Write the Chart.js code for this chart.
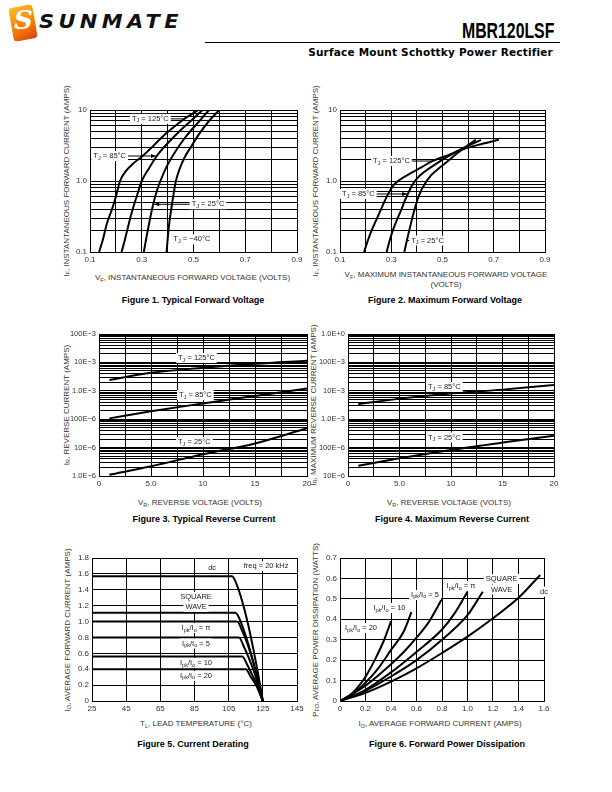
<!DOCTYPE html>
<html><head><meta charset="utf-8">
<script src="https://cdn.jsdelivr.net/npm/chart.js@4.4.0/dist/chart.umd.min.js"></script>
<style>
body{margin:0;width:612px;height:792px;background:#fff;position:relative;overflow:hidden;font-family:"Liberation Sans",Arial,sans-serif;color:#222}
canvas{position:absolute}
.cap{position:absolute;font-weight:bold;font-size:9px;white-space:nowrap;transform:translate(-50%,-50%);color:#000;line-height:11px}
.xt{position:absolute;font-size:8px;white-space:nowrap;transform:translate(-50%,-50%);line-height:10px;text-align:center;color:#333}
.yt{position:absolute;font-size:8px;white-space:nowrap;transform:translate(-50%,-50%) rotate(-90deg);line-height:9px;color:#333}
sub{font-size:5.5px;vertical-align:-1.5px;line-height:0}
</style></head><body>

<div style="position:absolute;left:11px;top:6px;width:24px;height:34px;background:linear-gradient(160deg,#fbc02d,#f57c00 60%,#d84315);border-radius:4px;transform:rotate(-10deg)"></div>
<div style="position:absolute;left:14px;top:5px;font:italic bold 26px 'DejaVu Serif';color:#fff">S</div>
<div style="position:absolute;left:39px;top:10px;font:italic 900 19px 'DejaVu Sans';letter-spacing:4px;color:#111;transform:scaleX(1.1);transform-origin:left center">SUNMATE</div>
<div style="position:absolute;right:58px;top:18px;font:bold 22px 'Liberation Sans';transform:scaleX(0.72);transform-origin:right center;color:#000">MBR120LSF</div>
<div style="position:absolute;left:205px;top:42px;width:355px;height:0;border-top:1.2px solid #000"></div>
<div style="position:absolute;right:59px;top:46px;font:bold 10.5px 'DejaVu Sans';color:#000;letter-spacing:0.2px">Surface Mount Schottky Power Rectifier</div>

<div class="yt" style="left:65.5px;top:181px">I<sub>F</sub>, INSTANTANEOUS FORWARD CURRENT (AMPS)</div>
<div class="yt" style="left:315px;top:181px">I<sub>F</sub>, INSTANTANEOUS FORWARD CURRENT (AMPS)</div>
<div class="yt" style="left:66px;top:405px">I<sub>R</sub>, REVERSE CURRENT (AMPS)</div>
<div class="yt" style="left:313px;top:405px">I<sub>R</sub>, MAXIMUM REVERSE CURRENT (AMPS)</div>
<div class="yt" style="left:67px;top:630px">I<sub>O</sub>, AVERAGE FORWARD CURRENT (AMPS)</div>
<div class="yt" style="left:315px;top:630px">P<sub>FO</sub>, AVERAGE POWER DISSIPATION (WATTS)</div>

<div class="xt" style="left:192.5px;top:277.5px">V<sub>F</sub>, INSTANTANEOUS FORWARD VOLTAGE (VOLTS)</div>
<div class="xt" style="left:446px;top:280px">V<sub>F</sub>, MAXIMUM INSTANTANEOUS FORWARD VOLTAGE<br>(VOLTS)</div>
<div class="xt" style="left:200px;top:502.5px">V<sub>R</sub>, REVERSE VOLTAGE (VOLTS)</div>
<div class="xt" style="left:449px;top:502.5px">V<sub>R</sub>, REVERSE VOLTAGE (VOLTS)</div>
<div class="xt" style="left:196px;top:724px">T<sub>L</sub>, LEAD TEMPERATURE (°C)</div>
<div class="xt" style="left:440px;top:724px">I<sub>O</sub>, AVERAGE FORWARD CURRENT (AMPS)</div>

<div class="cap" style="left:193px;top:299.5px">Figure 1. Typical Forward Voltage</div>
<div class="cap" style="left:445px;top:299.5px">Figure 2. Maximum Forward Voltage</div>
<div class="cap" style="left:204px;top:518.5px">Figure 3. Typical Reverse Current</div>
<div class="cap" style="left:452px;top:518.5px">Figure 4. Maximum Reverse Current</div>
<div class="cap" style="left:193px;top:744px">Figure 5. Current Derating</div>
<div class="cap" style="left:447px;top:744px">Figure 6. Forward Power Dissipation</div>

<script>
const FONT = '"Liberation Sans", Arial, sans-serif';

// ---------- Figure 1: Typical forward voltage ----------
const F1_X_TICKS = [0.1,0.2,0.3,0.4,0.5,0.6,0.7,0.8,0.9];
const F1_X_LABELS = ['0.1','','0.3','','0.5','','0.7','','0.9'];
const F1_Y_TICKS = [0.1,1,10];
const F1_Y_LABELS = ['0.1','1.0','10'];
const F1_V_125 = [0.135,0.15,0.165,0.185,0.20,0.216,0.24,0.27,0.30,0.34,0.38,0.42,0.46,0.49,0.518];
const F1_I_125 = [0.1,0.15,0.25,0.4,0.6,1.0,1.4,1.8,2.2,3.0,4.2,5.6,7.3,8.6,10];
const F1_V_85 = [0.222,0.235,0.25,0.265,0.283,0.30,0.33,0.358,0.40,0.45,0.50,0.535];
const F1_I_85 = [0.1,0.15,0.25,0.4,0.65,1.0,1.55,2.25,3.4,5.2,7.6,10];
const F1_V_25 = [0.308,0.318,0.33,0.343,0.357,0.372,0.40,0.43,0.47,0.52,0.56];
const F1_I_25 = [0.1,0.16,0.27,0.45,0.7,1.0,1.7,2.6,4.2,6.8,10];
const F1_V_M40 = [0.396,0.40,0.406,0.414,0.422,0.432,0.447,0.467,0.49,0.52,0.56,0.60];
const F1_I_M40 = [0.1,0.15,0.25,0.4,0.62,1.0,1.5,2.2,3.0,4.5,7.0,10];

// ---------- Figure 2: Maximum forward voltage ----------
const F2_V_125 = [0.194,0.21,0.228,0.25,0.272,0.292,0.31,0.335,0.37,0.41,0.46,0.52,0.58,0.65,0.72];
const F2_I_125 = [0.1,0.15,0.22,0.33,0.5,0.7,0.88,1.05,1.25,1.5,1.9,2.3,2.8,3.3,3.8];
const F2_V_85 = [0.282,0.295,0.31,0.325,0.34,0.352,0.365,0.38,0.40,0.43,0.47,0.52,0.58,0.65];
const F2_I_85 = [0.1,0.15,0.22,0.3,0.4,0.52,0.66,0.85,1.08,1.35,1.7,2.2,2.9,3.8];
const F2_V_25 = [0.351,0.36,0.37,0.382,0.395,0.41,0.43,0.455,0.485,0.52,0.56,0.60,0.63];
const F2_I_25 = [0.1,0.14,0.2,0.3,0.45,0.65,0.9,1.2,1.5,1.9,2.5,3.2,3.8];

// ---------- Figure 3: Typical reverse current ----------
const F3_X_TICKS = [0,2.5,5,7.5,10,12.5,15,17.5,20];
const F3_X_LABELS = ['0','','5.0','','10','','15','','20'];
const F3_Y_TICKS = [1e-6,1e-5,1e-4,1e-3,1e-2,1e-1];
const F3_Y_LABELS = ['1.0E\u22126','10E\u22126','100E\u22126','1.0E\u22123','10E\u22123','100E\u22123'];
const F3_VR = [1,5,10,15,20];
const F3_IR_125 = [2.4e-3,4.3e-3,6.5e-3,9.0e-3,1.15e-2];
const F3_IR_85 = [1.07e-4,1.9e-4,3.6e-4,6.6e-4,1.2e-3];
const F3_IR_25 = [1.1e-6,2.2e-6,5.8e-6,1.4e-5,4.8e-5];

// ---------- Figure 4: Maximum reverse current ----------
const F4_Y_TICKS = [1e-5,1e-4,1e-3,1e-2,1e-1,1];
const F4_Y_LABELS = ['10E\u22126','100E\u22126','1.0E\u22123','10E\u22123','100E\u22123','1.0E+0'];
const F4_VR = [1,5,10,15,20];
const F4_IR_85 = [3.4e-3,5.3e-3,8.1e-3,1.1e-2,1.6e-2];
const F4_IR_25 = [2.3e-5,4.2e-5,8.3e-5,1.5e-4,2.6e-4];

// ---------- Figure 5: Current derating ----------
const F5_X_TICKS = [25,45,65,85,105,125,145];
const F5_X_LABELS = ['25','45','65','85','105','125','145'];
const F5_Y_TICKS = [0,0.2,0.4,0.6,0.8,1.0,1.2,1.4,1.6,1.8];
const F5_Y_LABELS = ['0','0.2','0.4','0.6','0.8','1.0','1.2','1.4','1.6','1.8'];
const F5_T_DC = [25,107,110,113,116,119,122,125];
const F5_I_DC = [1.57,1.57,1.45,1.25,1.0,0.7,0.37,0];
const F5_T_SQ = [25,109,112,115,118,121,125];
const F5_I_SQ = [1.11,1.11,1.0,0.82,0.6,0.36,0];
const F5_T_PI = [25,110,113,116,119,122,125];
const F5_I_PI = [1.0,1.0,0.88,0.72,0.52,0.28,0];
const F5_T_5 = [25,111,114,117,120,125];
const F5_I_5 = [0.8,0.8,0.68,0.53,0.36,0];
const F5_T_10 = [25,113,116,119,122,125];
const F5_I_10 = [0.56,0.56,0.45,0.32,0.18,0];
const F5_T_20 = [25,115,118,121,125];
const F5_I_20 = [0.4,0.4,0.3,0.2,0];

// ---------- Figure 6: Forward power dissipation ----------
const F6_X_TICKS = [0,0.2,0.4,0.6,0.8,1.0,1.2,1.4,1.6];
const F6_X_LABELS = ['0','0.2','0.4','0.6','0.8','1.0','1.2','1.4','1.6'];
const F6_Y_TICKS = [0,0.1,0.2,0.3,0.4,0.5,0.6,0.7];
const F6_Y_LABELS = ['0','0.1','0.2','0.3','0.4','0.5','0.6','0.7'];
const F6_I_DC = [0,0.2,0.4,0.6,0.8,1.0,1.2,1.4,1.57];
const F6_P_DC = [0,0.04,0.095,0.16,0.235,0.315,0.405,0.505,0.617];
const F6_I_SQ = [0,0.2,0.4,0.6,0.8,1.0,1.12];
const F6_P_SQ = [0,0.05,0.12,0.2,0.3,0.42,0.535];
const F6_I_PI = [0,0.2,0.4,0.6,0.8,0.9,1.0];
const F6_P_PI = [0,0.055,0.14,0.24,0.35,0.43,0.535];
const F6_I_5 = [0,0.2,0.4,0.5,0.6,0.7,0.8];
const F6_P_5 = [0,0.075,0.18,0.24,0.31,0.39,0.5];
const F6_I_10 = [0,0.1,0.2,0.3,0.4,0.5,0.56];
const F6_P_10 = [0,0.035,0.09,0.16,0.25,0.34,0.435];
const F6_I_20 = [0,0.05,0.1,0.15,0.18,0.22,0.28,0.34,0.40];
const F6_P_20 = [0,0.015,0.04,0.075,0.1,0.14,0.21,0.29,0.39];

// ---------- layout ----------
const PAD_L = 50, PAD_T = 10, PAD_R = 14, PAD_B = 18;

function logGrid(min, max){
  const g = [];
  for (let e = Math.round(Math.log10(min)); e < Math.round(Math.log10(max)); e++)
    for (let k = 1; k < 10; k++) g.push(k * Math.pow(10, e));
  g.push(max);
  return g;
}
function axisCfg(type, min, max, gridVals, labVals, labels, isY, fontSize){
  return {
    type, min, max, bounds:'data', position: isY ? 'left' : 'bottom',
    afterBuildTicks(s){ s.ticks = gridVals.map(v => ({value:v})); },
    afterFit(s){ if (isY) s.width = PAD_L; else s.height = PAD_B; },
    ticks:{autoSkip:false, maxRotation:0, minRotation:0, padding:3, color:'#333',
      font:{family:FONT, size:fontSize || 8},
      callback(v){ const i = labVals.findIndex(t => Math.abs(t - v) <= 1e-12 + Math.abs(t) * 1e-6); return i < 0 ? '' : labels[i]; }},
    grid:{color:'#000', lineWidth:1, drawTicks:false},
    border:{color:'#000', width:1}
  };
}
function parts(s){
  const out = []; const re = /_\{([^}]*)\}/g; let last = 0, m;
  while ((m = re.exec(s))) { if (m.index > last) out.push({t:s.slice(last, m.index), sub:false}); out.push({t:m[1], sub:true}); last = re.lastIndex; }
  if (last < s.length) out.push({t:s.slice(last), sub:false});
  return out;
}
function notesPlugin(notes){
  return {id:'notes', afterDatasetsDraw(chart){
    const ctx = chart.ctx, xs = chart.scales.x, ys = chart.scales.y;
    ctx.save();
    ctx.strokeStyle = '#000'; ctx.fillStyle = '#000'; ctx.lineWidth = 1;
    notes.forEach(n => {
      if (!n.to) return;
      const x1 = xs.getPixelForValue(n.x), y1 = ys.getPixelForValue(n.y);
      const x2 = xs.getPixelForValue(n.to[0]), y2 = ys.getPixelForValue(n.to[1]);
      ctx.beginPath(); ctx.moveTo(x1, y1); ctx.lineTo(x2, y2); ctx.stroke();
      if (n.arrow){
        const a = Math.atan2(y2 - y1, x2 - x1), L = 5, W = 2;
        ctx.beginPath();
        ctx.moveTo(x2, y2);
        ctx.lineTo(x2 - L*Math.cos(a) + W*Math.sin(a), y2 - L*Math.sin(a) - W*Math.cos(a));
        ctx.lineTo(x2 - L*Math.cos(a) - W*Math.sin(a), y2 - L*Math.sin(a) + W*Math.cos(a));
        ctx.closePath(); ctx.fill();
      }
    });
    notes.forEach(n => {
      const ps = parts(n.text);
      const fN = '7.5px ' + FONT, fS = '5.5px ' + FONT;
      let w = 0;
      ps.forEach(p => { ctx.font = p.sub ? fS : fN; p.w = ctx.measureText(p.t).width; w += p.w; });
      let x = xs.getPixelForValue(n.x); const y = ys.getPixelForValue(n.y);
      if (n.align === 'center') x -= w / 2;
      if (n.bg !== false){ ctx.fillStyle = '#fff'; ctx.fillRect(x - 2, y - 5, w + 4, 10); }
      ctx.fillStyle = '#222'; ctx.textBaseline = 'middle'; ctx.textAlign = 'left';
      ps.forEach(p => { ctx.font = p.sub ? fS : fN; ctx.fillText(p.t, x, p.sub ? y + 2 : y); x += p.w; });
    });
    ctx.restore();
  }};
}
function series(xArr, yArr){ return xArr.map((x, i) => ({x, y:yArr[i]})); }
function makeChart(plot, xAxis, yAxis, data, notes){
  const c = document.createElement('canvas');
  c.width = plot.w + PAD_L + PAD_R; c.height = plot.h + PAD_T + PAD_B;
  c.style.left = (plot.l - PAD_L) + 'px'; c.style.top = (plot.t - PAD_T) + 'px';
  c.style.width = c.width + 'px'; c.style.height = c.height + 'px';
  document.body.appendChild(c);
  new Chart(c, {
    type:'scatter',
    data:{datasets: data.map(d => ({data:d, showLine:true, borderColor:'#000', borderWidth:2, pointRadius:0, fill:false, cubicInterpolationMode:'monotone'}))},
    options:{responsive:false, animation:false, devicePixelRatio:1,
      layout:{padding:{left:0, top:PAD_T, right:PAD_R, bottom:0}},
      plugins:{legend:{display:false}, tooltip:{enabled:false}},
      scales:{x:xAxis, y:yAxis}},
    plugins:[notesPlugin(notes)]
  });
}

// Figure 1
makeChart({l:90,t:110,w:207,h:142},
  axisCfg('linear',0.1,0.9,F1_X_TICKS,F1_X_TICKS,F1_X_LABELS,false),
  axisCfg('logarithmic',0.1,10,logGrid(0.1,10),F1_Y_TICKS,F1_Y_LABELS,true),
  [series(F1_V_125,F1_I_125),series(F1_V_85,F1_I_85),series(F1_V_25,F1_I_25),series(F1_V_M40,F1_I_M40)],
  [{x:0.262,y:7.5,text:'T_{J} = 125°C',to:[0.462,7.5]},
   {x:0.113,y:2.25,text:'T_{J} = 85°C',to:[0.355,2.25],arrow:true},
   {x:0.493,y:0.47,text:'T_{J} = 25°C',to:[0.348,0.47],arrow:true},
   {x:0.422,y:0.151,text:'T_{J} = \u221240°C'}]);

// Figure 2
makeChart({l:340,t:110,w:205,h:142},
  axisCfg('linear',0.1,0.9,F1_X_TICKS,F1_X_TICKS,F1_X_LABELS,false),
  axisCfg('logarithmic',0.1,10,logGrid(0.1,10),F1_Y_TICKS,F1_Y_LABELS,true),
  [series(F2_V_125,F2_I_125),series(F2_V_85,F2_I_85),series(F2_V_25,F2_I_25)],
  [{x:0.229,y:1.91,text:'T_{J} = 125°C',to:[0.458,1.91]},
   {x:0.108,y:0.656,text:'T_{J} = 85°C',to:[0.362,0.656],arrow:true},
   {x:0.378,y:0.145,text:'T_{J} = 25°C',to:[0.359,0.145]}]);

// Figure 3
makeChart({l:99,t:334,w:208,h:142},
  axisCfg('linear',0,20,F3_X_TICKS,F3_X_TICKS,F3_X_LABELS,false),
  axisCfg('logarithmic',1e-6,1e-1,logGrid(1e-6,1e-1),F3_Y_TICKS,F3_Y_LABELS,true,7.5),
  [series(F3_VR,F3_IR_125),series(F3_VR,F3_IR_85),series(F3_VR,F3_IR_25)],
  [{x:7.6,y:1.43e-2,text:'T_{J} = 125°C'},
   {x:7.7,y:7.1e-4,text:'T_{J} = 85°C'},
   {x:7.6,y:1.57e-5,text:'T_{J} = 25°C'}]);

// Figure 4
makeChart({l:348,t:334,w:206,h:142},
  axisCfg('linear',0,20,F3_X_TICKS,F3_X_TICKS,F3_X_LABELS,false),
  axisCfg('logarithmic',1e-5,1,logGrid(1e-5,1),F4_Y_TICKS,F4_Y_LABELS,true,7.5),
  [series(F4_VR,F4_IR_85),series(F4_VR,F4_IR_25)],
  [{x:7.77,y:1.36e-2,text:'T_{J} = 85°C'},
   {x:7.77,y:2.27e-4,text:'T_{J} = 25°C'}]);

// Figure 5
makeChart({l:92,t:558,w:205,h:143},
  axisCfg('linear',25,145,F5_X_TICKS,F5_X_TICKS,F5_X_LABELS,false),
  axisCfg('linear',0,1.8,F5_Y_TICKS,F5_Y_TICKS,F5_Y_LABELS,true),
  [series(F5_T_DC,F5_I_DC),series(F5_T_SQ,F5_I_SQ),series(F5_T_PI,F5_I_PI),series(F5_T_5,F5_I_5),series(F5_T_10,F5_I_10),series(F5_T_20,F5_I_20)],
  [{x:95.3,y:1.674,text:'dc',align:'center'},
   {x:126.9,y:1.70,text:'freq = 20 kHz',align:'center'},
   {x:85.9,y:1.309,text:'SQUARE',align:'center'},
   {x:85.9,y:1.183,text:'WAVE',align:'center'},
   {x:85.9,y:0.919,text:'I_{pk}/I_{o} = π',align:'center'},
   {x:85.9,y:0.724,text:'I_{pk}/I_{o} = 5',align:'center'},
   {x:85.9,y:0.478,text:'I_{pk}/I_{o} = 10',align:'center'},
   {x:85.9,y:0.315,text:'I_{pk}/I_{o} = 20',align:'center'}]);

// Figure 6
makeChart({l:340,t:558,w:204,h:143},
  axisCfg('linear',0,1.6,F6_X_TICKS,F6_X_TICKS,F6_X_LABELS,false),
  axisCfg('linear',0,0.7,F6_Y_TICKS,F6_Y_TICKS,F6_Y_LABELS,true),
  [series(F6_I_DC,F6_P_DC),series(F6_I_SQ,F6_P_SQ),series(F6_I_PI,F6_P_PI),series(F6_I_5,F6_P_5),series(F6_I_10,F6_P_10),series(F6_I_20,F6_P_20)],
  [{x:0.165,y:0.357,text:'I_{pk}/I_{o} = 20',align:'center'},
   {x:0.388,y:0.455,text:'I_{pk}/I_{o} = 10',align:'center'},
   {x:0.667,y:0.519,text:'I_{pk}/I_{o} = 5',align:'center'},
   {x:0.949,y:0.563,text:'I_{pk}/I_{o} = π',align:'center'},
   {x:1.267,y:0.597,text:'SQUARE',align:'center'},
   {x:1.267,y:0.546,text:'WAVE',align:'center'},
   {x:1.60,y:0.535,text:'dc',align:'center'}]);
</script>
</body></html>
